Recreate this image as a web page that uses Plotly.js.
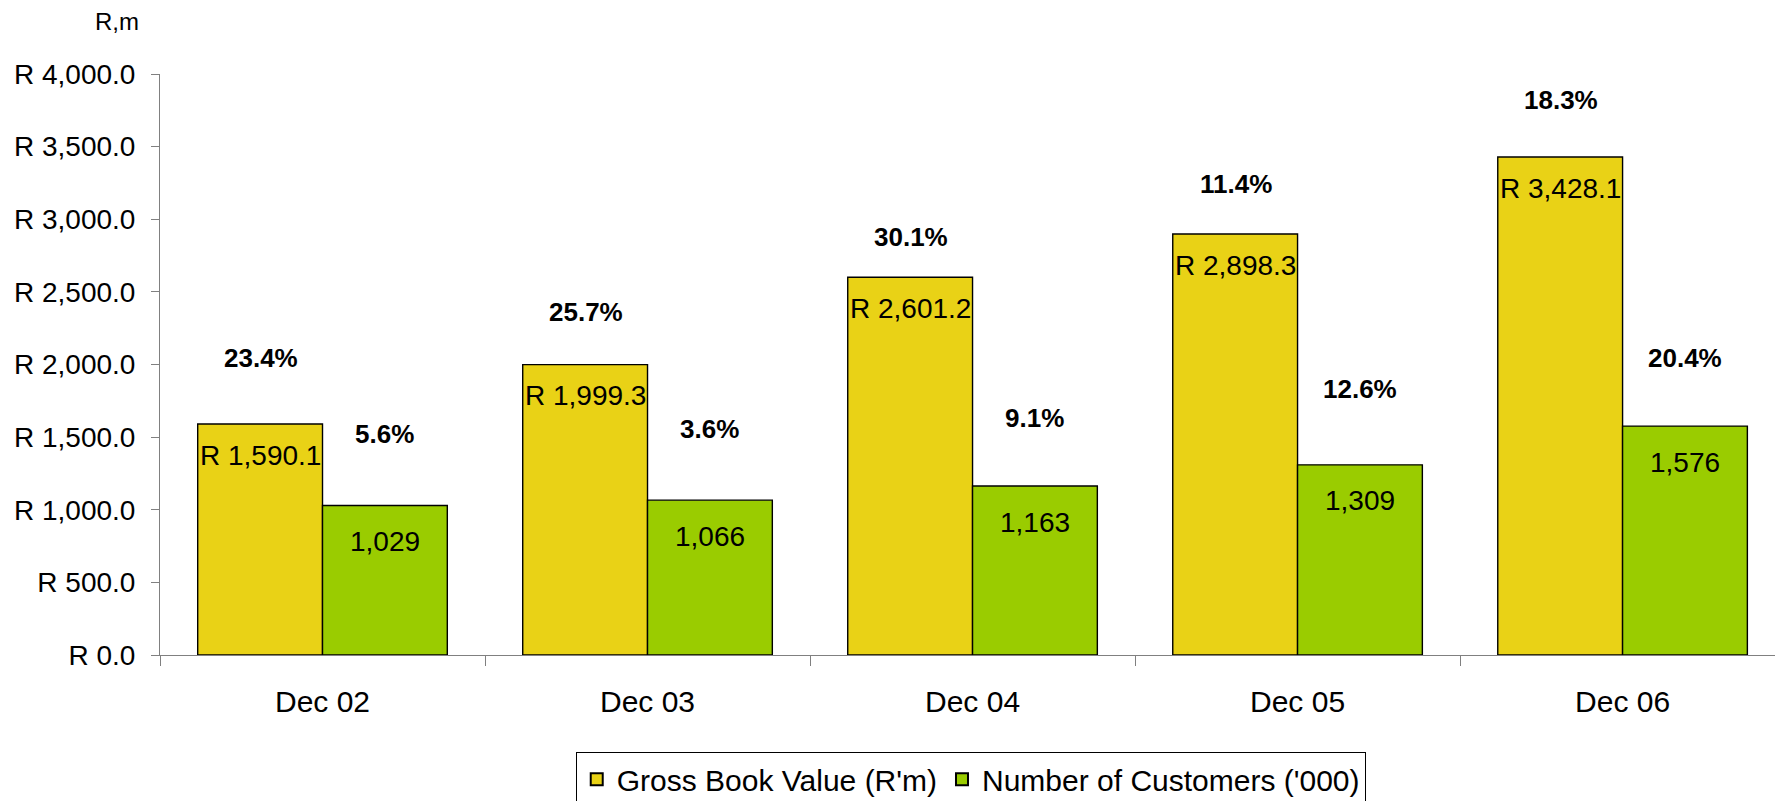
<!DOCTYPE html>
<html>
<head>
<meta charset="utf-8">
<script src="https://cdn.plot.ly/plotly-3.0.1.min.js"></script>
<style>html,body{margin:0;padding:0;background:#fff;}#chart{width:1775px;height:801px;}</style>
</head>
<body>
<div id="chart"></div>
<script>
// ---- data ----
const categories = ["Dec 02", "Dec 03", "Dec 04", "Dec 05", "Dec 06"];
const grossBookValue = [1590.1, 1999.3, 2601.2, 2898.3, 3428.1];
const customers = [1029, 1066, 1163, 1309, 1576];
const gbvGrowth = ["23.4%", "25.7%", "30.1%", "11.4%", "18.3%"];
const custGrowth = ["5.6%", "3.6%", "9.1%", "12.6%", "20.4%"];
const seriesNames = ["Gross Book Value (R'm)", "Number of Customers ('000)"];

// ---- label placement (pixels above bar top) ----
const gbvPctShift = [66, 53, 40, 50, 57];
const custPctShift = [72, 71, 68, 76, 68];

const FONT = "Liberation Sans, Arial, sans-serif";
const gold = "#E9D216";
const green = "#9ACC00";

const traces = [
  {type: "bar", name: seriesNames[0], x: categories, y: grossBookValue,
   marker: {color: gold, line: {color: "#000", width: 1.4}}},
  {type: "bar", name: seriesNames[1], x: categories, y: customers,
   marker: {color: green, line: {color: "#000", width: 1.4}}}
];

const annotations = [];
const fmtR = v => "R " + v.toLocaleString("en-US", {minimumFractionDigits: 1, maximumFractionDigits: 1});
const fmtN = v => v.toLocaleString("en-US");
categories.forEach((c, i) => {
  annotations.push({x: c, y: grossBookValue[i], xref: "x", yref: "y", xshift: -62, yshift: -31,
    text: fmtR(grossBookValue[i]), showarrow: false, font: {family: FONT, size: 28, color: "#000"}, yanchor: "middle"});
  annotations.push({x: c, y: customers[i], xref: "x", yref: "y", xshift: 62, yshift: -36,
    text: fmtN(customers[i]), showarrow: false, font: {family: FONT, size: 28, color: "#000"}, yanchor: "middle"});
  annotations.push({x: c, y: grossBookValue[i], xref: "x", yref: "y", xshift: -62, yshift: gbvPctShift[i],
    text: "<b>" + gbvGrowth[i] + "</b>", showarrow: false, font: {family: FONT, size: 26, color: "#000"}, yanchor: "middle"});
  annotations.push({x: c, y: customers[i], xref: "x", yref: "y", xshift: 62, yshift: custPctShift[i],
    text: "<b>" + custGrowth[i] + "</b>", showarrow: false, font: {family: FONT, size: 26, color: "#000"}, yanchor: "middle"});
});
annotations.push({xref: "paper", yref: "paper", x: -0.0266, y: 1.091, text: "R,m", showarrow: false,
  font: {family: FONT, size: 24, color: "#000"}, xanchor: "center", yanchor: "middle"});

const layout = {
  width: 1775, height: 801,
  margin: {l: 160, r: 0, t: 74, b: 145.5, pad: 0, autoexpand: false},
  paper_bgcolor: "#fff", plot_bgcolor: "#fff",
  barmode: "group", bargap: 0.232, bargroupgap: 0,
  font: {family: FONT, size: 27, color: "#000"},
  xaxis: {type: "category", range: [-0.5, 4.469], showline: true, linecolor: "#808080", linewidth: 1,
    ticks: "outside", tickson: "boundaries", ticklen: 10, tickcolor: "#808080", tickwidth: 1,
    showgrid: false, zeroline: false, tickfont: {family: FONT, size: 30, color: "#000"}, ticklabelstandoff: 20},
  yaxis: {range: [0, 4000], dtick: 500, tick0: 0, tickprefix: "R ", tickformat: ",.1f",
    showline: true, linecolor: "#808080", linewidth: 1, ticks: "outside", ticklen: 8, tickcolor: "#808080",
    showgrid: false, zeroline: false, tickfont: {family: FONT, size: 28, color: "#000"}, ticklabelstandoff: 10},
  legend: {orientation: "h", x: 0.502, xanchor: "center", yref: "container", y: 0.061, yanchor: "top",
    bordercolor: "#000", borderwidth: 1, font: {family: FONT, size: 30, color: "#000"},
    traceorder: "normal", itemsizing: "constant", bgcolor: "#fff"},
  showlegend: true,
  hovermode: false,
  annotations: annotations
};

Plotly.newPlot("chart", traces, layout, {displayModeBar: false, staticPlot: true});
</script>
</body>
</html>
